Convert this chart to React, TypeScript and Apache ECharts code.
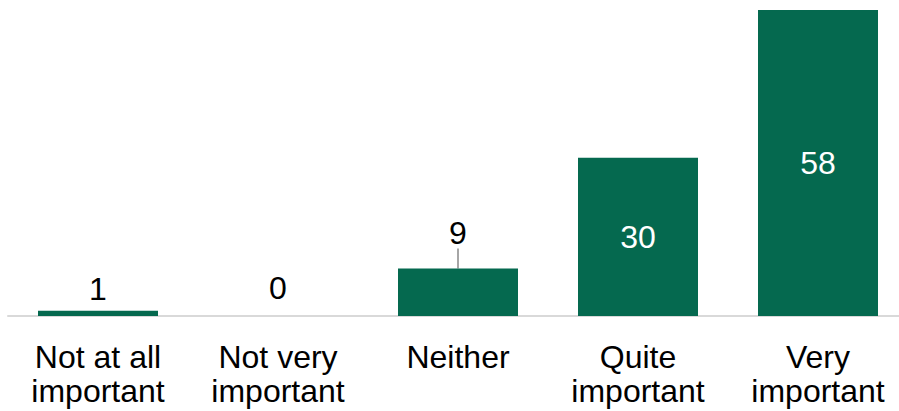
import React, { useEffect, useRef } from "react";
import * as echarts from "echarts";

const categories = [
  "Not at all\nimportant",
  "Not very\nimportant",
  "Neither",
  "Quite\nimportant",
  "Very\nimportant",
];
const values = [1, 0, 9, 30, 58];
// Bars tall enough to hold their label inside
const insideLabelFrom = 20;

const BAR_COLOR = "#05694f";
const FONT = "Arial, 'Liberation Sans', sans-serif";

export default function App() {
  const ref = useRef<HTMLDivElement>(null);

  useEffect(() => {
    document.body.style.margin = "0";
    const chart = echarts.init(ref.current!, null, { renderer: "svg" });

    const data = values.map((v) => {
      if (v >= insideLabelFrom) {
        return {
          value: v,
          label: { position: "inside", color: "#ffffff", offset: [0, 2] },
        };
      }
      if (v === 0) {
        return { value: v, label: { distance: 12 } };
      }
      if (v >= 5) {
        // lifted label joined to its bar by a short leader line
        return { value: v, labelLine: { show: true } };
      }
      return { value: v };
    });

    chart.setOption({
      animation: false,
      grid: {
        left: 8,
        right: -9,
        top: 10,
        bottom: 95,
        outerBoundsMode: "none",
      },
      xAxis: {
        type: "category",
        data: categories,
        axisLine: { show: true, lineStyle: { color: "#d9d9d9", width: 2 } },
        axisTick: { show: false },
        axisLabel: {
          color: "#000000",
          fontFamily: FONT,
          fontSize: 32,
          lineHeight: 34,
          margin: 24,
          interval: 0,
        },
      },
      yAxis: {
        type: "value",
        min: 0,
        max: 58,
        show: false,
        splitLine: { show: false },
      },
      series: [
        {
          type: "bar",
          data,
          barWidth: 120,
          itemStyle: { color: BAR_COLOR },
          label: {
            show: true,
            position: "top",
            distance: 6,
            color: "#000000",
            fontFamily: FONT,
            fontSize: 32,
          },
          labelLayout: (p: any) => (p.dataIndex === 2 ? { dy: -14 } : {}),
          labelLine: {
            show: false,
            lineStyle: { color: "#a6a6a6", width: 2 },
          },
        },
      ],
    });

    return () => chart.dispose();
  }, []);

  return <div ref={ref} style={{ width: 899, height: 411 }} />;
}
